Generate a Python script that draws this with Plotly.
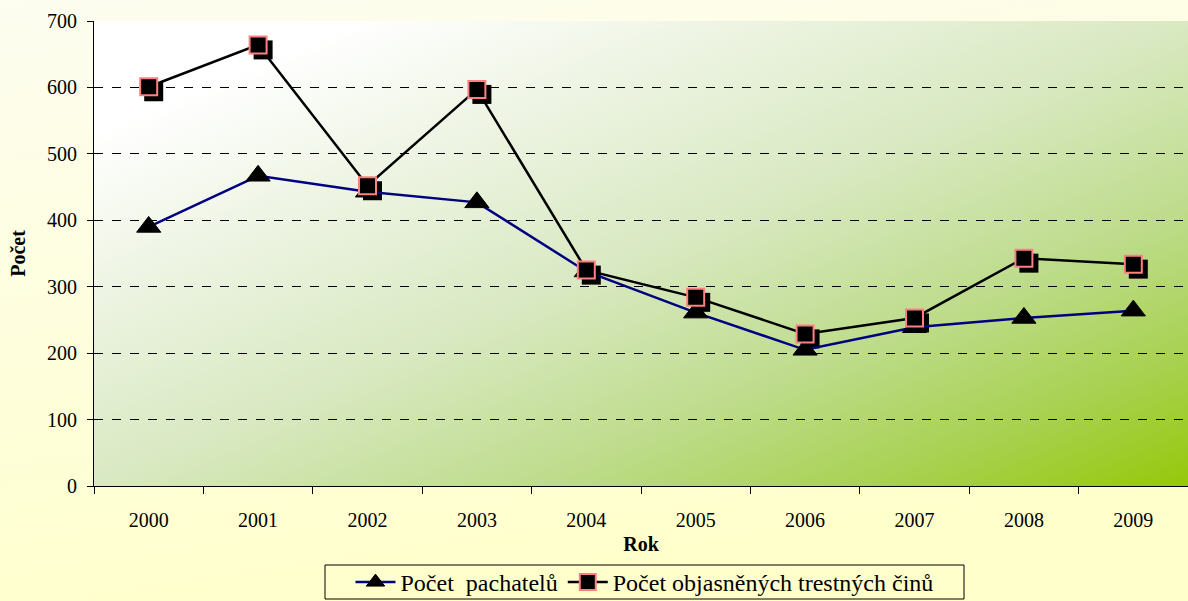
import base64
import plotly.graph_objects as go

# ── Data ──────────────────────────────────────────────────────────────────────
roky = [2000, 2001, 2002, 2003, 2004, 2005, 2006, 2007, 2008, 2009]
pachatelu = [390, 467, 443, 427, 323, 261, 205, 239, 253, 264]
objasnene = [601, 664, 452, 597, 325, 284, 229, 253, 343, 334]
y_ticks = [0, 100, 200, 300, 400, 500, 600, 700]

# ── Style ─────────────────────────────────────────────────────────────────────
_SERIF = "Liberation Serif, Times New Roman, serif"
_FONT = dict(family=_SERIF, size=20, color="black")
_NAVY = "#000080"
_PINK = "#FF8080"

W, H = 1188, 601
L, R, T, B = 94, 0, 21, 115
PW, PH = W - L - R, H - T - B
SHADOW_PX = 5


def _svg_uri(svg):
    return "data:image/svg+xml;base64," + base64.b64encode(svg.encode()).decode()


def _px_x(px):
    return (px - L) / PW


def _px_y(py):
    return (H - B - py) / PH


plot_bg = _svg_uri(
    '<svg xmlns="http://www.w3.org/2000/svg" width="1094" height="465" '
    'preserveAspectRatio="none"><defs>'
    '<linearGradient id="g" x1="0" y1="0" x2="1" y2="1">'
    '<stop offset="0" stop-color="#FFFFFF"/>'
    '<stop offset="0.12" stop-color="#FFFFFF"/>'
    '<stop offset="0.3" stop-color="#EDF4E2"/>'
    '<stop offset="0.5" stop-color="#D9E9C2"/>'
    '<stop offset="0.7" stop-color="#BEDC8C"/>'
    '<stop offset="0.86" stop-color="#A8D150"/>'
    '<stop offset="1" stop-color="#96C80A"/>'
    '</linearGradient></defs>'
    '<rect width="100%" height="100%" fill="url(#g)"/></svg>'
)

paper_bg = _svg_uri(
    '<svg xmlns="http://www.w3.org/2000/svg" width="1188" height="601" '
    'preserveAspectRatio="none"><defs>'
    '<linearGradient id="p" x1="0" y1="0" x2="0.3" y2="1">'
    '<stop offset="0" stop-color="#FDFDF0"/>'
    '<stop offset="1" stop-color="#FFFFCC"/>'
    '</linearGradient></defs>'
    '<rect width="100%" height="100%" fill="url(#p)"/></svg>'
)

# shadow offset expressed in axis units
dx = SHADOW_PX / (PW / 10)
dy = SHADOW_PX / (PH / 700)

fig = go.Figure()

# Shadow of the square markers (base axes, shifted range)
fig.add_trace(go.Scatter(
    x=roky, y=objasnene,
    mode="markers",
    marker=dict(symbol="square", size=19, color="black"),
    xaxis="x", yaxis="y",
    showlegend=False, hoverinfo="skip",
))

fig.add_trace(go.Scatter(
    x=roky, y=pachatelu,
    name="Počet\u00a0 pachatelů",
    mode="lines+markers",
    line=dict(color=_NAVY, width=2.5),
    marker=dict(symbol="triangle-up", size=21, color="black",
                line=dict(color="black", width=1)),
    xaxis="x2", yaxis="y2",
))

fig.add_trace(go.Scatter(
    x=roky, y=objasnene,
    name="Počet objasněných trestných činů",
    mode="lines+markers",
    line=dict(color="black", width=2.5),
    marker=dict(symbol="square", size=17, color="black",
                line=dict(color=_PINK, width=2)),
    xaxis="x2", yaxis="y2",
))

fig.update_layout(
    width=W, height=H,
    font=_FONT,
    paper_bgcolor="#FFFFDD",
    plot_bgcolor="rgba(0,0,0,0)",
    margin=dict(l=L, r=R, t=T, b=B, autoexpand=False),
    images=[
        dict(source=paper_bg, xref="paper", yref="paper",
             x=-L / PW, y=1 + T / PH, sizex=W / PW, sizey=H / PH,
             sizing="stretch", layer="below", xanchor="left", yanchor="top"),
        dict(source=plot_bg, xref="paper", yref="paper",
             x=0, y=1, sizex=1, sizey=1,
             sizing="stretch", layer="below", xanchor="left", yanchor="top"),
    ],
    # legend frame
    shapes=[dict(
        type="rect", xref="paper", yref="paper",
        x0=_px_x(325), x1=_px_x(964), y0=_px_y(599), y1=_px_y(565),
        line=dict(color="black", width=1), fillcolor="rgba(0,0,0,0)",
    )],
    xaxis=dict(visible=False, range=[1999.5 - dx, 2009.5 - dx], fixedrange=True),
    yaxis=dict(visible=False, range=[dy, 700 + dy], fixedrange=True),
    xaxis2=dict(
        overlaying="x", anchor="y2", side="bottom",
        range=[1999.5, 2009.5],
        tickmode="array", tickvals=roky, ticktext=[str(r) for r in roky],
        ticks="outside", ticklen=16, tickcolor="rgba(0,0,0,0)",
        minor=dict(ticks="outside", ticklen=7, tickcolor="black",
                   tick0=1999.5, dtick=1, showgrid=False),
        showline=True, linecolor="black", linewidth=1,
        showgrid=False, zeroline=False,
        tickfont=_FONT,
        title=dict(text="<b>Rok</b>", font=_FONT, standoff=6),
    ),
    yaxis2=dict(
        overlaying="y", anchor="x2", side="left",
        range=[0, 700],
        tickmode="array", tickvals=y_ticks,
        ticks="outside", ticklen=6, tickcolor="black",
        ticklabelstandoff=6,
        showline=True, linecolor="black", linewidth=1,
        showgrid=True, gridcolor="black", griddash="dash", gridwidth=1,
        zeroline=False,
        tickfont=_FONT,
        title=dict(text="<b>Počet</b>", font=_FONT, standoff=16),
    ),
    legend=dict(
        orientation="h",
        x=_px_x(644.5), xanchor="center",
        y=_px_y(582.5), yanchor="middle",
        bgcolor="rgba(0,0,0,0)",
        borderwidth=0,
        font=dict(family=_SERIF, size=24, color="black"),
        itemwidth=40,
        tracegroupgap=0,
    ),
)

fig.write_html(
    "out.html",
    config={"displayModeBar": False},
    post_script="document.body.style.margin='0';document.body.style.overflow='hidden';",
)
